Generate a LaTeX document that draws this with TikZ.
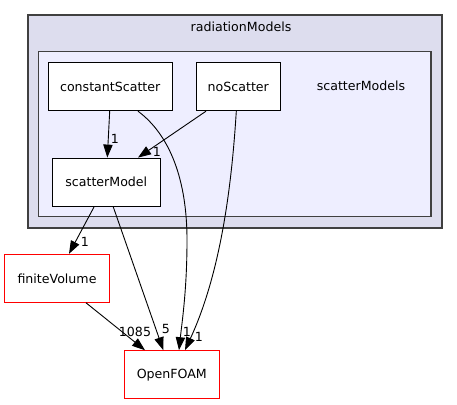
\documentclass[tikz,border=0pt]{standalone}
\usepackage{fontspec}
\setmainfont{DejaVu Sans}
\usetikzlibrary{arrows.meta}
\begin{document}
\begin{tikzpicture}[x=1pt,y=-1pt,
  every node/.style={font=\fontsize{12.6}{14}\selectfont},
  dirbox/.style={draw=black,fill=white,line width=1pt,inner sep=0pt,minimum height=48.4pt},
  extbox/.style={draw=red,fill=white,line width=1pt,inner sep=0pt,minimum height=48pt},
  dep/.style={draw=black,line width=0.9pt,-{Triangle[length=13pt,width=9.3pt]}},
  lbl/.style={inner sep=0pt}]
\useasboundingbox (0,0) rectangle (457,404);
% clusters
\draw[fill={rgb,255:red,221;green,221;blue,238},draw={rgb,255:red,64;green,64;blue,64},line width=1.3pt] (28,15) rectangle (442,228);
\node (rmtitle) at (241,27) {radiationModels};
\draw[fill={rgb,255:red,238;green,238;blue,255},draw={rgb,255:red,64;green,64;blue,64},line width=1.3pt] (38.7,51.7) rectangle (431,216.7);
\node (smtitle) at (361,86) {scatterModels};
% nodes
\node[dirbox,minimum width=124.3pt] (cs) at (110.2,86.5) {constantScatter};
\node[dirbox,minimum width=84pt] (ns) at (238.3,86.5) {noScatter};
\node[dirbox,minimum width=108pt] (sm) at (106.3,182.3) {scatterModel};
\node[extbox,minimum width=104.6pt] (fv) at (57,278.3) {finiteVolume};
\node[extbox,minimum width=95pt] (of) at (171.8,374.7) {OpenFOAM};
% edges
\draw[dep] ([xshift=-0.5pt]cs.south) -- ([xshift=1pt]sm.north);
\node[lbl] (l1) at (115,139) {1};
\draw[dep] ([xshift=-32.3pt]ns.south) -- ([xshift=31.7pt]sm.north);
\node[lbl] (l2) at (157,152) {1};
\draw[dep] ([xshift=27.8pt]cs.south) .. controls (170,135) and (187,180) .. (187,240) .. controls (187,290) and (182,322) .. ([xshift=7.2pt]of.north);
\node[lbl] (l3) at (187,331.5) {1};
\draw[dep] ([xshift=-2pt]ns.south) .. controls (232,180) and (222,270) .. ([xshift=13.2pt]of.north);
\node[lbl] (l4) at (199,336.5) {1};
\draw[dep] ([xshift=-12.3pt]sm.south) -- ([xshift=12pt]fv.north);
\node[lbl] (l5) at (85,241.5) {1};
\draw[dep] ([xshift=7pt]sm.south) -- ([xshift=-8.5pt]of.north);
\node[lbl] (l6) at (166,329) {5};
\draw[dep] ([xshift=29pt]fv.south) -- ([xshift=-26.8pt]of.north);
\node[lbl] (l7) at (135,331.5) {1085};
\end{tikzpicture}
\end{document}
